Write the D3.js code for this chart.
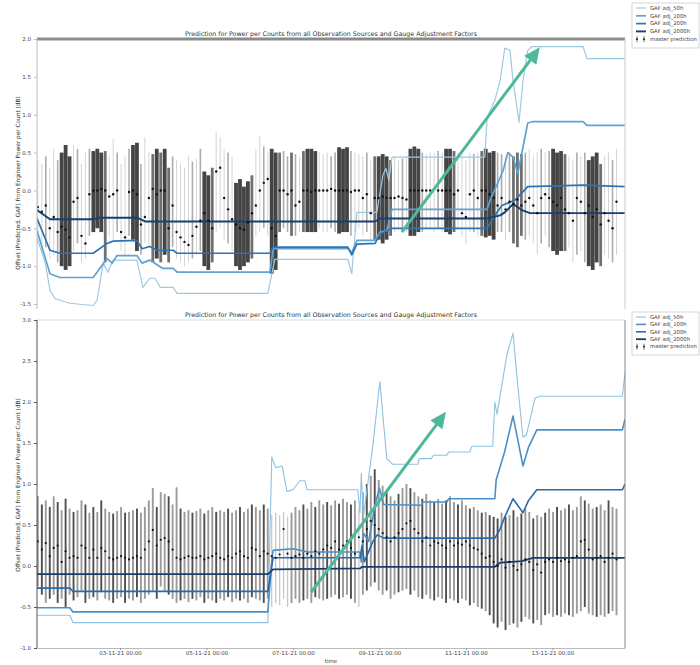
<!DOCTYPE html>
<html>
<head>
<meta charset="utf-8">
<script src="https://cdn.jsdelivr.net/npm/d3@7"></script>
<style>
  body { margin: 0; background: #fff; }
  svg { display: block; font-family: "DejaVu Sans", sans-serif; }
</style>
</head>
<body>
<svg id="chart" width="700" height="665"></svg>
<script>
// ---- labels / ticks
var seriesNames = ["GAF adj_50h", "GAF adj_100h", "GAF adj_200h", "GAF adj_2000h"];
var predName = "master prediction";
var chartTitle = "Prediction for Power per Counts from all Observation Sources and Gauge Adjustment Factors";
var yLabel = "Offset (Predicted, GAF) from Engineer Power per Count (dB)";
var xLabel = "time";
var xTickDays = [3, 5, 7, 9, 11, 13];
var topYTicks = [-1.5, -1.0, -0.5, 0.0, 0.5, 1.0, 1.5, 2.0];
var botYTicks = [-1.0, -0.5, 0.0, 0.5, 1.0, 1.5, 2.0, 2.5, 3.0];
var dayDomain = [1.08, 14.68];   // day of Nov 2021

// observations: one every 2.2 h starting on day 1.1
var obsStartDay = 1.1, obsStepHours = 2.2;

// ---- top panel observations
var topPred = [-0.22,-0.28,-0.20,-0.50,-0.35,-0.55,-0.48,-0.52,-0.62,-0.15,
  -0.10,-0.60,-0.70,-0.05,0.00,0.00,0.02,0.00,-0.08,-0.05,
  0.00,-0.55,-0.62,-0.02,0.00,-0.05,-0.45,-0.35,-0.10,0.02,
  -0.05,0.00,0.00,-0.50,-0.20,-0.55,-0.62,-0.68,-0.72,-0.60,
  -0.48,-0.40,-0.30,-0.40,-0.50,0.25,0.30,-0.10,-0.25,-0.38,
  -0.45,-0.50,-0.52,-0.42,-0.30,-0.20,0.00,0.10,0.15,-0.50,
  -0.60,0.00,0.00,-0.05,0.00,-0.20,-0.15,0.00,0.00,-0.02,
  0.00,0.00,0.00,0.00,0.02,0.00,0.00,0.00,0.00,-0.02,
  0.00,0.00,-0.10,-0.05,-0.30,-0.10,-0.10,-0.08,-0.10,-0.10,
  -0.10,-0.08,-0.10,-0.12,0.00,0.00,0.00,0.00,0.00,0.00,
  0.02,0.00,0.00,0.00,0.00,-0.05,0.00,-0.30,-0.35,-0.05,
  0.00,-0.10,0.00,0.00,-0.05,-0.10,-0.20,-0.10,-0.25,-0.15,
  -0.18,-0.12,-0.20,-0.15,-0.10,-0.20,-0.30,-0.10,-0.05,-0.10,
  -0.15,-0.20,-0.10,-0.25,-0.30,-0.40,-0.10,-0.15,-0.30,-0.20,
  -0.35,-0.25,-0.45,-0.30,-0.40,-0.50,-0.15];
var topHi = [0.40,0.35,0.45,0.30,0.55,0.40,0.50,0.60,0.45,0.60,
  0.55,0.35,0.50,0.55,0.52,0.55,0.50,0.52,0.45,0.68,
  0.50,0.35,0.45,0.55,0.60,0.63,0.35,0.70,0.50,0.48,
  0.55,0.50,0.55,0.30,0.45,0.40,0.35,0.30,0.45,0.38,
  0.42,0.55,0.25,0.20,0.30,0.78,0.70,0.55,0.50,0.45,
  0.10,0.15,0.05,0.12,0.20,0.55,0.72,0.58,0.50,0.55,
  0.50,0.50,0.52,0.45,0.50,0.48,0.45,0.52,0.55,0.55,
  0.52,0.50,0.48,0.50,0.45,0.50,0.57,0.55,0.57,0.52,
  0.50,0.48,0.45,0.50,0.40,0.45,0.45,0.48,0.45,0.40,
  0.45,0.40,0.42,0.45,0.55,0.58,0.55,0.50,0.48,0.50,
  0.50,0.52,0.50,0.55,0.55,0.52,0.50,0.45,0.40,0.50,
  0.48,0.50,0.52,0.55,0.50,0.52,0.50,0.48,0.45,0.50,
  0.45,0.50,0.48,0.50,0.55,0.45,0.50,0.55,0.50,0.52,
  0.55,0.50,0.52,0.48,0.45,0.40,0.50,0.45,0.50,0.40,
  0.45,0.50,0.35,0.45,0.50,0.40,0.55];
var topLo = [-0.70,-0.80,-0.75,-0.90,-0.85,-0.95,-1.00,-1.05,-1.00,-0.80,
  -0.70,-0.95,-0.90,-0.60,-0.55,-0.50,-0.55,-0.95,-0.60,-0.65,
  -0.55,-0.80,-0.85,-0.60,-0.65,-0.80,-0.85,-0.70,-0.75,-0.95,
  -0.90,-0.95,-0.85,-0.95,-0.75,-0.90,-0.95,-1.00,-0.95,-0.90,
  -0.85,-0.80,-1.00,-1.05,-0.95,-0.55,-0.50,-0.65,-0.70,-0.80,
  -1.00,-1.05,-1.00,-0.95,-0.90,-0.60,-0.55,-0.50,-0.60,-1.10,
  -1.05,-0.55,-0.50,-0.55,-0.60,-0.60,-0.55,-0.55,-0.55,-0.55,
  -0.55,-0.50,-0.55,-0.55,-0.50,-0.55,-0.57,-0.55,-0.55,-0.60,
  -0.55,-0.50,-0.60,-0.55,-0.65,-0.65,-0.65,-0.70,-0.65,-0.60,
  -0.55,-0.50,-0.55,-0.55,-0.60,-0.60,-0.55,-0.55,-0.50,-0.50,
  -0.55,-0.50,-0.55,-0.55,-0.58,-0.55,-0.50,-0.60,-0.70,-0.55,
  -0.55,-0.60,-0.60,-0.62,-0.60,-0.65,-0.55,-0.55,-0.65,-0.55,
  -0.70,-0.75,-0.60,-0.65,-0.60,-0.70,-0.85,-0.70,-0.60,-0.75,
  -0.80,-0.85,-0.80,-0.80,-0.75,-0.95,-0.85,-0.80,-0.95,-1.00,
  -1.05,-0.95,-1.00,-0.85,-0.90,-0.95,-0.85];
// number of observation sources overlapping at each time
var topSrc = [1,1,2,1,1,2,4,4,4,1, 2,1,1,2,4,4,4,3,1,1, 2,1,1,2,4,4,2,1,1,3,
  4,3,4,3,2,1,1,1,1,2, 1,2,4,4,3,1,1,1,2,1, 4,4,4,4,3,1,1,2,1,4,
  4,3,2,2,3,2,1,3,4,4, 4,1,1,1,2,2,4,4,4,2, 1,1,1,2,1,3,4,4,4,3,
  1,1,2,1,4,4,4,2,1,1, 1,2,1,4,4,3,1,1,1,1, 2,1,3,4,4,4,2,2,1,2,
  3,3,3,2,1,1,1,2,1,2, 4,4,4,3,1,1,2,1,2,4, 4,4,3,1,1,2,1];

// ---- top panel GAF curves [day, dB]
var top50h = [[1.08,-0.63],[1.27,-0.95],[1.38,-1.32],[1.50,-1.43],[1.84,-1.49],[2.38,-1.52],
  [2.47,-1.45],[2.61,-0.96],[2.72,-1.08],[2.84,-0.92],[3.39,-0.92],[3.53,-1.28],[3.69,-1.16],
  [3.81,-1.16],[3.93,-1.28],[4.23,-1.28],[4.32,-1.36],[6.42,-1.36],[6.58,-0.91],[8.27,-0.91],
  [8.36,-1.10],[8.48,-0.29],[8.94,-0.29],[9.08,0.20],[9.15,0.29],[9.22,0.13],[9.29,0.44],
  [11.44,0.44],[11.49,0.96],[11.67,1.19],[11.79,1.45],[11.90,1.88],[12.02,1.85],[12.09,1.45],
  [12.23,0.90],[12.32,1.45],[12.43,1.85],[12.53,1.90],[13.71,1.90],[13.80,1.74],[14.68,1.74]];
var top100h = [[1.08,-0.53],[1.38,-1.10],[1.61,-1.15],[2.38,-1.15],[2.70,-0.90],[2.82,-0.96],
  [2.93,-0.86],[3.39,-0.86],[3.51,-0.96],[3.69,-0.92],[3.99,-1.03],[4.23,-1.03],[4.32,-1.08],
  [6.47,-1.08],[6.54,-0.77],[8.27,-0.77],[8.36,-0.82],[8.48,-0.66],[8.90,-0.66],[9.01,-0.55],
  [9.17,-0.53],[9.29,-0.25],[11.49,-0.25],[11.56,-0.13],[11.86,0.26],[11.97,0.50],[12.09,0.44],
  [12.20,0.22],[12.32,0.57],[12.43,0.89],[12.55,0.91],[13.71,0.91],[13.80,0.86],[14.68,0.86]];
var top200h = [[1.08,-0.37],[1.38,-0.79],[1.61,-0.83],[2.38,-0.83],[2.70,-0.70],[2.84,-0.67],
  [3.39,-0.66],[3.51,-0.77],[3.69,-0.74],[3.86,-0.79],[4.23,-0.79],[4.32,-0.83],[6.47,-0.83],
  [6.54,-0.75],[8.27,-0.75],[8.36,-0.85],[8.48,-0.71],[8.90,-0.70],[9.01,-0.58],[9.29,-0.50],
  [11.49,-0.50],[11.67,-0.33],[11.83,-0.20],[12.13,-0.13],[12.30,-0.03],[12.43,0.05],
  [13.71,0.07],[14.68,0.05]];
var top2000h = [[1.08,-0.26],[1.38,-0.38],[2.38,-0.38],[2.54,-0.36],[3.39,-0.36],[3.58,-0.41],
  [8.90,-0.41],[9.01,-0.37],[11.49,-0.37],[11.79,-0.33],[11.90,-0.29],[12.09,-0.18],
  [12.30,-0.26],[12.48,-0.30],[14.68,-0.30]];
var topArrow = [[9.52,-0.55],[12.71,1.89]];

// ---- bottom panel observations
var botPred = [0.30,0.20,0.28,0.12,0.22,0.25,0.05,0.18,0.10,0.12,
  0.10,0.25,0.22,0.10,0.20,0.10,0.22,0.18,0.10,0.08,
  0.10,0.12,0.10,0.08,0.10,0.12,0.10,0.20,0.30,0.44,
  0.25,0.32,0.34,0.30,0.20,0.10,0.08,0.10,0.12,0.10,
  0.10,0.12,0.08,0.10,0.12,0.15,0.10,0.08,0.12,0.10,
  0.15,0.18,0.12,0.10,0.22,0.20,0.12,0.18,0.15,0.12,
  0.10,0.14,0.45,0.15,0.10,0.12,0.14,0.10,0.15,0.12,
  0.18,0.15,0.20,0.25,0.22,0.30,0.20,0.25,0.30,0.22,
  0.15,0.35,0.30,0.45,0.55,0.50,0.45,0.40,0.35,0.30,
  0.35,0.40,0.45,0.52,0.55,0.45,0.40,0.30,0.35,0.25,
  0.30,0.28,0.25,0.22,0.30,0.25,0.28,0.26,0.30,0.25,
  0.22,0.20,0.15,0.10,0.12,0.05,0.00,0.08,-0.02,0.05,
  0.00,-0.05,0.02,0.08,0.05,-0.05,0.02,-0.08,0.05,0.08,
  0.05,0.10,0.06,0.08,0.05,0.10,0.12,0.30,0.32,0.20,
  0.08,0.10,0.12,0.05,0.10,0.15,0.08];
var botHi = [0.85,0.75,0.80,0.72,0.85,0.78,0.68,0.82,0.70,0.66,
  0.68,0.80,0.75,0.65,0.72,0.66,0.80,0.70,0.66,0.64,
  0.67,0.72,0.65,0.66,0.68,0.70,0.65,0.72,0.80,0.95,
  0.72,0.90,0.88,0.85,0.75,0.96,0.70,0.66,0.68,0.65,
  0.67,0.70,0.64,0.68,0.72,0.66,0.68,0.66,0.70,0.65,
  0.68,0.72,0.66,0.70,0.75,0.72,0.68,0.75,0.70,0.62,
  0.65,0.62,0.66,0.60,0.65,0.72,0.68,0.75,0.70,0.78,
  0.72,0.80,0.75,0.78,0.74,0.80,0.76,0.82,0.78,0.75,
  0.80,0.70,0.90,1.00,1.10,1.18,1.05,0.98,0.92,0.85,
  0.80,0.88,0.95,1.00,0.95,0.90,0.85,0.82,0.88,0.80,
  0.78,0.82,0.76,0.80,0.85,0.78,0.75,0.80,0.74,0.70,
  0.72,0.68,0.65,0.66,0.62,0.60,0.58,0.65,0.60,0.62,
  0.68,0.60,0.64,0.70,0.66,0.58,0.62,0.60,0.65,0.70,
  0.66,0.72,0.68,0.70,0.75,0.68,0.72,0.85,0.80,0.76,
  0.70,0.72,0.75,0.68,0.80,0.72,0.70];
var botLo = [-0.25,-0.35,-0.45,-0.40,-0.35,-0.45,-0.40,-0.50,-0.35,-0.42,
  -0.38,-0.30,-0.45,-0.40,-0.38,-0.42,-0.32,-0.40,-0.42,-0.45,
  -0.40,-0.38,-0.45,-0.40,-0.42,-0.38,-0.45,-0.40,-0.35,-0.30,
  -0.40,-0.25,-0.30,-0.35,-0.40,-0.45,-0.42,-0.40,-0.44,-0.40,
  -0.42,-0.38,-0.45,-0.40,-0.42,-0.45,-0.40,-0.42,-0.38,-0.44,
  -0.40,-0.42,-0.40,-0.45,-0.38,-0.40,-0.42,-0.45,-0.40,-0.50,
  -0.45,-0.48,-0.40,-0.50,-0.45,-0.40,-0.45,-0.42,-0.40,-0.45,
  -0.38,-0.40,-0.42,-0.40,-0.38,-0.35,-0.40,-0.38,-0.35,-0.40,
  -0.45,-0.50,-0.35,-0.30,-0.25,-0.20,-0.30,-0.35,-0.30,-0.40,
  -0.35,-0.32,-0.30,-0.28,-0.35,-0.30,-0.38,-0.40,-0.35,-0.40,
  -0.42,-0.38,-0.40,-0.45,-0.40,-0.42,-0.45,-0.40,-0.42,-0.48,
  -0.45,-0.50,-0.52,-0.55,-0.60,-0.70,-0.75,-0.68,-0.78,-0.72,
  -0.70,-0.75,-0.68,-0.62,-0.65,-0.70,-0.66,-0.72,-0.60,-0.58,
  -0.62,-0.60,-0.62,-0.58,-0.60,-0.62,-0.58,-0.55,-0.50,-0.58,
  -0.60,-0.62,-0.60,-0.62,-0.58,-0.55,-0.60];
var botSrc = [2,3,2,3,2,3,2,3,2,3, 2,2,3,2,3,2,3,2,2,3, 2,2,3,2,2,3,2,2,2,2,
  3,2,2,3,2,2,3,2,2,3, 2,2,3,2,2,3,2,2,3,2, 2,3,2,2,3,2,2,3,2,1,
  1,1,1,1,2,2,2,3,2,2, 3,2,2,3,2,2,3,2,2,3, 2,1,2,3,2,3,2,2,3,2,
  2,3,2,2,3,2,2,3,2,2, 3,2,2,3,2,2,3,2,2,3, 2,2,3,2,3,3,3,2,3,2,
  3,2,3,2,2,3,2,2,3,2, 2,3,2,2,3,2,2,2,3,2, 2,3,2,2,3,2,2];

// ---- bottom panel GAF curves [day, dB]
var bot50h = [[1.08,-0.60],[1.84,-0.60],[1.91,-0.69],[6.42,-0.69],[6.51,1.33],[6.60,1.20],
  [6.75,1.22],[6.86,0.91],[7.00,0.93],[7.16,1.04],[7.28,1.04],[7.32,0.93],[8.50,0.93],
  [8.55,0.65],[8.58,1.13],[8.63,0.60],[8.85,1.48],[9.01,2.25],[9.17,1.31],[9.31,1.24],
  [9.89,1.24],[9.92,1.31],[10.20,1.31],[10.25,1.35],[10.56,1.35],[10.60,1.39],[11.09,1.39],
  [11.14,1.46],[11.62,1.46],[11.67,2.00],[11.72,1.85],[11.95,2.58],[12.09,2.84],[12.20,2.20],
  [12.32,1.57],[12.40,1.60],[12.60,2.05],[12.71,2.07],[14.62,2.07],[14.68,2.36]];
var bot100h = [[1.08,-0.51],[1.84,-0.51],[1.91,-0.56],[6.42,-0.56],[6.50,0.00],[6.54,0.19],
  [7.00,0.21],[7.35,0.17],[8.55,0.17],[8.58,0.05],[8.63,0.40],[8.75,0.30],[8.90,0.75],
  [9.00,0.95],[9.10,0.75],[9.98,0.74],[10.00,0.78],[10.56,0.78],[10.60,0.82],[11.67,0.82],
  [11.70,1.05],[11.90,1.40],[12.09,1.83],[12.32,1.22],[12.45,1.45],[12.64,1.66],[14.62,1.66],
  [14.68,1.79]];
var bot200h = [[1.08,-0.27],[1.84,-0.27],[1.91,-0.31],[6.42,-0.31],[6.54,0.10],[8.55,0.10],
  [8.60,0.25],[8.65,0.05],[8.85,0.30],[8.95,0.38],[9.10,0.34],[11.67,0.34],[11.79,0.45],
  [11.90,0.60],[12.09,0.82],[12.32,0.65],[12.45,0.80],[12.64,0.93],[14.62,0.93],[14.68,1.00]];
var bot2000h = [[1.08,-0.10],[6.42,-0.10],[6.54,-0.04],[8.55,-0.03],[8.60,-0.01],[11.67,-0.01],
  [11.79,0.04],[12.30,0.06],[12.55,0.10],[14.68,0.10]];
var botArrow = [[7.42,-0.32],[10.54,1.88]];

// ---------------------------------------------------------------
var svg = d3.select("#chart");
var plotLeft = 37, plotRight = 625, midX = (plotLeft + plotRight) / 2;
var arrowColor = "#4fb899";
// plain hyphen for negative tick labels, like the original plot
var tickFmt = d3.formatLocale({ decimal: ".", thousands: ",", grouping: [3], currency: ["", ""], minus: "-" }).format(".1f");

function dayToDate(d) { return new Date(Date.UTC(2021, 10, 1) + (d - 1) * 864e5); }

var x = d3.scaleUtc()
    .domain(dayDomain.map(dayToDate))
    .range([plotLeft, plotRight]);

function obsRows(pred, hi, lo, src) {
  return pred.map(function(p, i) {
    return { t: dayToDate(obsStartDay + i * obsStepHours / 24), pred: p, hi: hi[i], lo: lo[i], n: src[i] };
  });
}

function drawPanel(p) {
  var y = d3.scaleLinear().domain(p.yDomain).range([p.yBottom, p.yTop]);
  var clipId = "clip_" + p.id;

  svg.append("clipPath").attr("id", clipId)
    .append("rect")
      .attr("x", plotLeft).attr("y", p.yTop)
      .attr("width", plotRight - plotLeft).attr("height", p.clipBottom - p.yTop);

  // title
  svg.append("text")
      .attr("x", midX).attr("y", p.yTop - 3)
      .attr("text-anchor", "middle")
      .attr("font-size", "6.3px").attr("fill", "#333")
      .text(chartTitle);

  // y label
  svg.append("text")
      .attr("transform", "translate(20," + p.labelY + ") rotate(-90)")
      .attr("text-anchor", "middle")
      .attr("font-size", "5.8px").attr("fill", "#333")
      .text(yLabel);

  var plot = svg.append("g").attr("clip-path", "url(#" + clipId + ")");

  // error bars, shade by number of overlapping sources
  var rows = obsRows(p.pred, p.hi, p.lo, p.src);
  var op = d3.scaleLinear().domain(p.srcDomain).range(p.opRange);
  var sw = d3.scaleLinear().domain(p.srcDomain).range(p.swRange);
  plot.append("g")
    .selectAll("line")
    .data(rows)
    .enter().append("line")
      .attr("x1", function(d) { return x(d.t); })
      .attr("x2", function(d) { return x(d.t); })
      .attr("y1", function(d) { return y(d.hi); })
      .attr("y2", function(d) { return y(d.lo); })
      .attr("stroke", p.barColor)
      .attr("stroke-opacity", function(d) { return op(d.n); })
      .attr("stroke-width", function(d) { return sw(d.n); });

  // GAF curves
  var line = d3.line()
      .x(function(d) { return x(dayToDate(d[0])); })
      .y(function(d) { return y(d[1]); });
  plot.append("g")
    .selectAll("path")
    .data(p.curves)
    .enter().append("path")
      .attr("d", line)
      .attr("fill", "none")
      .attr("stroke", function(d, i) { return p.colors[i]; })
      .attr("stroke-width", function(d, i) { return p.widths[i]; })
      .attr("stroke-linejoin", "round");

  // master prediction dots
  plot.append("g")
    .selectAll("circle")
    .data(rows)
    .enter().append("circle")
      .attr("cx", function(d) { return x(d.t); })
      .attr("cy", function(d) { return y(d.pred); })
      .attr("r", p.dotR)
      .attr("fill", "#111");

  // spines
  svg.append("line")
      .attr("x1", plotLeft).attr("x2", plotRight)
      .attr("y1", p.yTop).attr("y2", p.yTop)
      .attr("stroke", p.topSpine[0]).attr("stroke-width", p.topSpine[1]);
  svg.append("line")
      .attr("x1", plotRight).attr("x2", plotRight)
      .attr("y1", p.yTop).attr("y2", p.clipBottom)
      .attr("stroke", p.rightSpine);

  // y axis
  var yAxis = svg.append("g")
      .attr("transform", "translate(" + plotLeft + ",0)")
      .call(d3.axisLeft(y).tickValues(p.yTicks).tickFormat(tickFmt).tickSize(3).tickSizeOuter(0));
  yAxis.select(".domain")
      .attr("d", "M0," + p.yTop + "V" + p.clipBottom)
      .attr("stroke", p.leftSpine);
  yAxis.selectAll(".tick line").attr("stroke", p.leftSpine);
  yAxis.selectAll("text").attr("font-size", "5.5px").attr("fill", "#444")
      .attr("font-family", "DejaVu Sans");

  // x axis (bottom panel only)
  if (p.xAxis) {
    var xAxis = svg.append("g")
        .attr("transform", "translate(0," + p.yBottom + ")")
        .call(d3.axisBottom(x).tickValues(xTickDays.map(dayToDate))
          .tickFormat(d3.utcFormat("%d-%m-%y %H:%M")).tickSize(2).tickSizeOuter(0));
    xAxis.select(".domain").attr("stroke", "#bbb");
    xAxis.selectAll(".tick line").attr("stroke", "#999");
    xAxis.selectAll("text").attr("font-size", "5.5px").attr("fill", "#444")
        .attr("font-family", "DejaVu Sans").attr("y", 3);
    svg.append("text")
        .attr("x", midX).attr("y", p.yBottom + 15)
        .attr("text-anchor", "middle")
        .attr("font-size", "5.5px").attr("fill", "#444")
        .text(xLabel);
  }

  // annotation arrow
  var a0 = [x(dayToDate(p.arrow[0][0])), y(p.arrow[0][1])];
  var a1 = [x(dayToDate(p.arrow[1][0])), y(p.arrow[1][1])];
  var dx = a1[0] - a0[0], dy = a1[1] - a0[1], len = Math.sqrt(dx * dx + dy * dy);
  var ux = dx / len, uy = dy / len, headL = 16, headW = 7.5;
  var bx = a1[0] - ux * headL, by = a1[1] - uy * headL;
  svg.append("line")
      .attr("x1", a0[0]).attr("y1", a0[1])
      .attr("x2", bx + ux * 2).attr("y2", by + uy * 2)
      .attr("stroke", arrowColor).attr("stroke-width", 3);
  svg.append("path")
      .attr("d", "M" + a1[0] + "," + a1[1] +
                 "L" + (bx - uy * headW) + "," + (by + ux * headW) +
                 "L" + (bx + uy * headW) + "," + (by - ux * headW) + "Z")
      .attr("fill", arrowColor);

  // legend
  var lg = svg.append("g").attr("transform", "translate(632," + p.legendY + ")");
  lg.append("rect")
      .attr("width", 67).attr("height", p.legendH)
      .attr("fill", "#fff").attr("stroke", "#ccc").attr("stroke-width", 0.8);
  var rowH = (p.legendH - 6) / 5;
  var items = seriesNames.concat([predName]);
  var item = lg.selectAll("g.item")
    .data(items)
    .enter().append("g")
      .attr("class", "item")
      .attr("transform", function(d, i) { return "translate(0," + (5 + i * rowH) + ")"; });
  item.filter(function(d, i) { return i < 4; })
    .append("line")
      .attr("x1", 4).attr("x2", 14).attr("y1", 0).attr("y2", 0)
      .attr("stroke", function(d, i) { return p.colors[i]; })
      .attr("stroke-width", function(d, i) { return p.widths[i]; });
  var eb = item.filter(function(d, i) { return i === 4; });
  [5, 12].forEach(function(ex) {
    eb.append("line").attr("x1", ex).attr("x2", ex).attr("y1", -3).attr("y2", 3)
      .attr("stroke", "#444").attr("stroke-width", 0.8);
    eb.append("circle").attr("cx", ex).attr("cy", 0).attr("r", 0.9).attr("fill", "#111");
  });
  item.append("text")
      .attr("x", 18).attr("y", 0).attr("dy", "0.35em")
      .attr("font-size", "5.3px").attr("fill", "#444")
      .text(function(d) { return d; });
}

drawPanel({
  id: "top", yDomain: [-1.5, 2.0], yTop: 39, yBottom: 304, clipBottom: 309,
  yTicks: topYTicks, labelY: 183, xAxis: false, dotR: 1.2,
  pred: topPred, hi: topHi, lo: topLo, src: topSrc,
  srcDomain: [1, 2, 3, 4], opRange: [0.18, 0.35, 0.6, 0.78], swRange: [1, 1.6, 2.8, 3.8], barColor: "#111",
  curves: [top50h, top100h, top200h, top2000h],
  colors: ["#9ecae1", "#5fa3d3", "#2e74b3", "#173f72"], widths: [1.2, 1.7, 1.7, 1.9],
  topSpine: ["#8c8c8c", 3], rightSpine: "#ccc", leftSpine: "#bbb",
  arrow: topArrow, legendY: 3, legendH: 45
});

drawPanel({
  id: "bot", yDomain: [-1.0, 3.0], yTop: 320, yBottom: 648, clipBottom: 648,
  yTicks: botYTicks, labelY: 485, xAxis: true, dotR: 1.1,
  pred: botPred, hi: botHi, lo: botLo, src: botSrc,
  srcDomain: [1, 2, 3], opRange: [0.25, 0.45, 0.8], swRange: [1.3, 1.9, 1.9], barColor: "#222",
  curves: [bot50h, bot100h, bot200h, bot2000h],
  colors: ["#8fc2e0", "#4b8fc6", "#2a6aa8", "#1a3d6c"], widths: [1.1, 1.6, 1.6, 1.8],
  topSpine: ["#ddd", 1], rightSpine: "#888", leftSpine: "#555",
  arrow: botArrow, legendY: 312, legendH: 43
});
</script>
</body>
</html>
